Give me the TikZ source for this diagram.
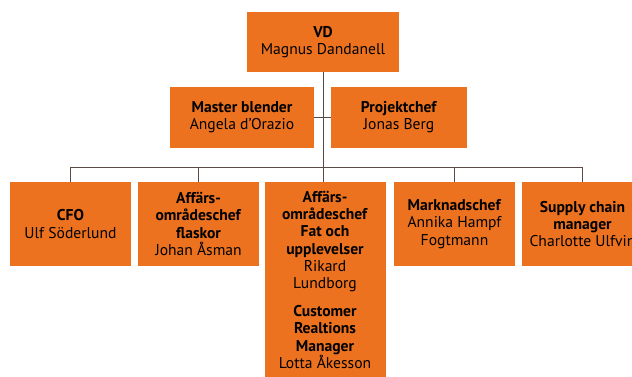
\documentclass[tikz,border=0pt]{standalone}
\usepackage{fontspec}
\setmainfont{PT Sans}
\definecolor{chartorange}{HTML}{EC7220}
\definecolor{chartline}{HTML}{5A4A44}
\tikzset{
  post/.style={fill=chartorange, align=center, inner sep=0pt, font=\fontsize{15.6}{17.2}\selectfont},
  rowpost/.style={post, minimum width=121, minimum height=84},
  link/.style={draw=chartline, line width=1pt},
}
\begin{document}
\begin{tikzpicture}[x=1pt, y=-1pt]
        \clip (0,0) rectangle (632,376);

        % Top
        \node[post, minimum width=152, minimum height=60] (vd) at (323,42) {\textbf{VD}\\Magnus Dandanell};
        \node[post, minimum width=144, minimum height=61] (master) at (242,117.5) {\textbf{Master blender}\\Angela d'Orazio};
        \node[post, minimum width=136, minimum height=61] (projekt) at (399,117.5) {\textbf{Projektchef}\\Jonas Berg};

        % Row
        \node[rowpost] (cfo) at (70.5,224) {\textbf{CFO}\\Ulf Söderlund};
        \node[rowpost] (flaskor) at (198.5,224) {\textbf{Affärs-}\\\textbf{områdeschef}\\\textbf{flaskor}\\Johan Åsman};
        \node[post, minimum width=121, inner ysep=9pt, anchor=north] (fat) at (325,182)
          {\textbf{Affärs-}\\\textbf{områdeschef}\\\textbf{Fat och}\\\textbf{upplevelser}\\Rikard\\Lundborg\\[11pt]
           \textbf{Customer}\\\textbf{Realtions}\\\textbf{Manager}\\Lotta Åkesson};
        \node[rowpost] (mark) at (454.5,224) {\textbf{Marknadschef}\\Annika Hampf\\Fogtmann};
        \node[rowpost] (supply) at (582.5,224) {\textbf{Supply chain}\\\textbf{manager}\\Charlotte Ulfvin};

        % Lines
        \coordinate (bus) at (323,167);
        \draw[link] (vd.south) -- (vd.south |- fat.north);
        \draw[link] (master.east) -- (projekt.west);
        \draw[link] (cfo.north) -- (cfo.north |- bus) -- (supply.north |- bus) -- (supply.north);
        \foreach \n in {flaskor, mark} \draw[link] (\n.north) -- (\n.north |- bus);

\end{tikzpicture}
\end{document}
